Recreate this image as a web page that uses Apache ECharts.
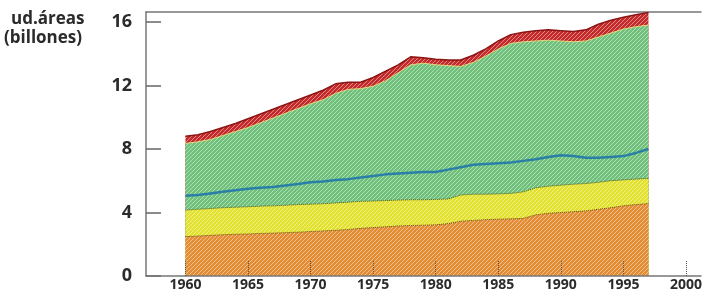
<!DOCTYPE html>
<html>
<head>
<meta charset="utf-8">
<script src="https://cdn.jsdelivr.net/npm/echarts@6/dist/echarts.min.js"></script>
<style>
  html, body { margin: 0; padding: 0; background: #fff; }
  #chart { width: 705px; height: 292px; }
</style>
</head>
<body>
<div id="chart"></div>
<script>
// años 1960..1997
const years = [1960,1961,1962,1963,1964,1965,1966,1967,1968,1969,1970,1971,1972,1973,1974,1975,1976,1977,1978,1979,
  1980,1981,1982,1983,1984,1985,1986,1987,1988,1989,1990,1991,1992,1993,1994,1995,1996,1997]

// límites superiores de cada capa (acumulados)
const totalTop = [8.8,8.9,9.1,9.35,9.6,9.9,10.2,10.5,10.8,11.1,11.4,11.7,12.1,12.2,12.2,12.5,12.9,13.3,13.8,13.75,
  13.65,13.6,13.6,13.9,14.3,14.8,15.2,15.35,15.45,15.5,15.45,15.4,15.5,15.85,16.1,16.3,16.45,16.6]
const co2Top = [8.35,8.45,8.6,8.85,9.1,9.35,9.65,9.95,10.25,10.55,10.85,11.1,11.5,11.75,11.8,11.95,12.3,12.8,13.3,13.4,
  13.3,13.25,13.2,13.45,13.85,14.3,14.65,14.75,14.8,14.85,14.8,14.75,14.8,15.05,15.3,15.55,15.7,15.8]
const blueLine = [5.05,5.1,5.2,5.3,5.4,5.5,5.55,5.6,5.7,5.8,5.9,5.95,6.05,6.1,6.2,6.3,6.4,6.45,6.5,6.55,
  6.55,6.7,6.85,7.0,7.05,7.1,7.15,7.25,7.35,7.5,7.6,7.55,7.45,7.45,7.5,7.55,7.75,8.0]
const yellowTop = [4.15,4.2,4.25,4.3,4.33,4.36,4.4,4.42,4.45,4.5,4.52,4.55,4.6,4.65,4.7,4.72,4.75,4.78,4.8,4.8,
  4.82,4.85,5.1,5.15,5.15,5.17,5.2,5.3,5.55,5.65,5.72,5.78,5.82,5.9,6.0,6.05,6.1,6.15]
const orangeTop = [2.48,2.52,2.56,2.6,2.63,2.65,2.68,2.7,2.73,2.76,2.8,2.84,2.88,2.93,3.0,3.05,3.1,3.15,3.18,3.2,
  3.22,3.3,3.45,3.5,3.55,3.58,3.6,3.63,3.85,3.95,4.0,4.05,4.1,4.2,4.3,4.42,4.5,4.56]

const xTicks = [1960,1965,1970,1975,1980,1985,1990,1995,2000]
const yTicks = [0,4,8,12,16]

function pairs(vals) {
  return years.map((y, i) => [y, vals[i]])
}

// relleno rayado
function hatch(base) {
  const c = document.createElement('canvas')
  c.width = 4
  c.height = 4
  const g = c.getContext('2d')
  g.fillStyle = base
  g.fillRect(0, 0, 4, 4)
  g.strokeStyle = 'rgba(255,255,255,0.45)'
  g.lineWidth = 1
  g.beginPath()
  g.moveTo(0, 4); g.lineTo(4, 0)
  g.moveTo(-1, 1); g.lineTo(1, -1)
  g.moveTo(3, 5); g.lineTo(5, 3)
  g.stroke()
  return { image: c, repeat: 'repeat' }
}

function areaSeries(name, vals, fill, line) {
  return {
    name: name,
    type: 'line',
    data: pairs(vals),
    symbol: 'none',
    smooth: false,
    lineStyle: line,
    areaStyle: { color: hatch(fill), opacity: 1 },
  }
}

const chart = echarts.init(document.getElementById('chart'))
const labelFont = { fontFamily: 'Open Sans', fontWeight: 'bold', color: '#2b2b2b' }

chart.setOption({
  animation: false,
  grid: { left: 146, right: 0, top: 12, bottom: 14 },
  xAxis: [
    {
      type: 'value',
      min: 1956.85,
      max: 2001.2,
      z: 5,
      splitLine: { show: false },
      axisLine: { lineStyle: { color: '#777', width: 1.5 } },
      axisTick: { inside: true, length: 15, customValues: xTicks, lineStyle: { color: '#555', type: 'dotted' } },
      axisLabel: { customValues: xTicks, margin: 2, fontSize: 14, ...labelFont, formatter: v => String(v) },
    },
    {
      type: 'value',
      position: 'top',
      min: 1956.85,
      max: 2001.2,
      splitLine: { show: false },
      axisLine: { show: true, lineStyle: { color: '#777', width: 1.5 } },
      axisTick: { show: false },
      axisLabel: { show: false },
    },
  ],
  yAxis: {
    type: 'value',
    min: 0,
    max: 16.625,
    splitLine: { show: false },
    axisLine: { show: true, lineStyle: { color: '#777', width: 1.5 } },
    axisTick: { show: true, inside: true, length: 15, customValues: yTicks, lineStyle: { color: '#666', width: 1.5 } },
    axisLabel: { customValues: yTicks, margin: 14, fontSize: 18, ...labelFont },
  },
  graphic: [
    { type: 'text', left: 11, top: 11, style: { text: 'ud.áreas', font: 'bold 17px "Open Sans"', fill: '#2b2b2b' } },
    { type: 'text', left: 4, top: 30, style: { text: '(billones)', font: 'bold 17px "Open Sans"', fill: '#2b2b2b' } },
    { type: 'text', left: 358, top: 115, style: { text: 'CO2', font: 'bold 18px "Open Sans"', fill: '#2e5a36' } },
  ],
  series: [
    areaSeries('otros', totalTop, '#c42a2a', { color: '#8c1414', width: 1.5 }),
    areaSeries('CO2', co2Top, '#6fc07a', { color: '#e2d97a', width: 1 }),
    areaSeries('amarillo', yellowTop, '#e2e22e', { color: '#4a5a1e', width: 1, type: 'dotted' }),
    areaSeries('naranja', orangeTop, '#e48c34', { color: '#6a4a1a', width: 1, type: 'dotted' }),
    {
      name: 'azul',
      type: 'line',
      data: pairs(blueLine),
      symbol: 'none',
      lineStyle: { color: '#2a7fa6', width: 2.5 },
      z: 3,
    },
  ],
})
</script>
</body>
</html>
